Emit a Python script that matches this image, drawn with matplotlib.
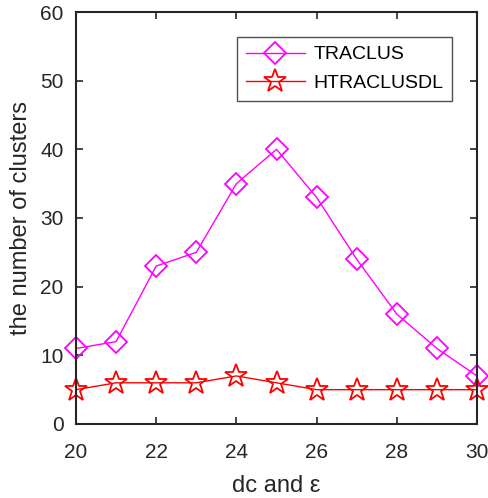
import matplotlib.pyplot as plt

plt.rcParams['font.family'] = ['Liberation Sans', 'DejaVu Sans']

x = [20, 21, 22, 23, 24, 25, 26, 27, 28, 29, 30]
traclus = [11, 12, 23, 25, 35, 40, 33, 24, 16, 11, 7]
htraclusdl = [5, 6, 6, 6, 7, 6, 5, 5, 5, 5, 5]
xticks = [20, 22, 24, 26, 28, 30]
yticks = [0, 10, 20, 30, 40, 50, 60]

fig = plt.figure(figsize=(4.89, 4.98), dpi=100)
ax = fig.add_axes([0.1554, 0.1486, 0.8201, 0.8273])

ax.plot(x, traclus, color='#ff00ff', lw=1.0, marker='D', markersize=11.5,
        markerfacecolor='none', markeredgewidth=1.3, label='TRACLUS',
        clip_on=False)
ax.plot(x, htraclusdl, color='#ff0000', lw=1.0, marker='*', markersize=17,
        markerfacecolor='none', markeredgewidth=1.3, label='HTRACLUSDL',
        clip_on=False)

ax.set_xlim(20, 30)
ax.set_ylim(0, 60)
ax.set_xticks(xticks)
ax.set_yticks(yticks)
ax.tick_params(direction='in', length=5, width=1.2, top=True, right=True,
               labelsize=15, colors='#262626')
ax.tick_params(axis='x', pad=14)
ax.tick_params(axis='y', pad=9)
for s in ax.spines.values():
    s.set_linewidth(1.5)
    s.set_color('#262626')

ax.set_xlabel('dc and ε', fontsize=17, color='#262626', labelpad=9)
ax.set_ylabel('the number of clusters', fontsize=17, color='#262626',
              labelpad=6)

leg = ax.legend(loc='upper right', bbox_to_anchor=(0.9377, 0.939),
                borderaxespad=0, fontsize=14, frameon=True, fancybox=False,
                edgecolor='#262626', handlelength=3.0, handletextpad=0.45,
                borderpad=0.45, labelspacing=0.55)
leg.get_frame().set_linewidth(1.0)

fig.savefig('out.png', dpi=100)
